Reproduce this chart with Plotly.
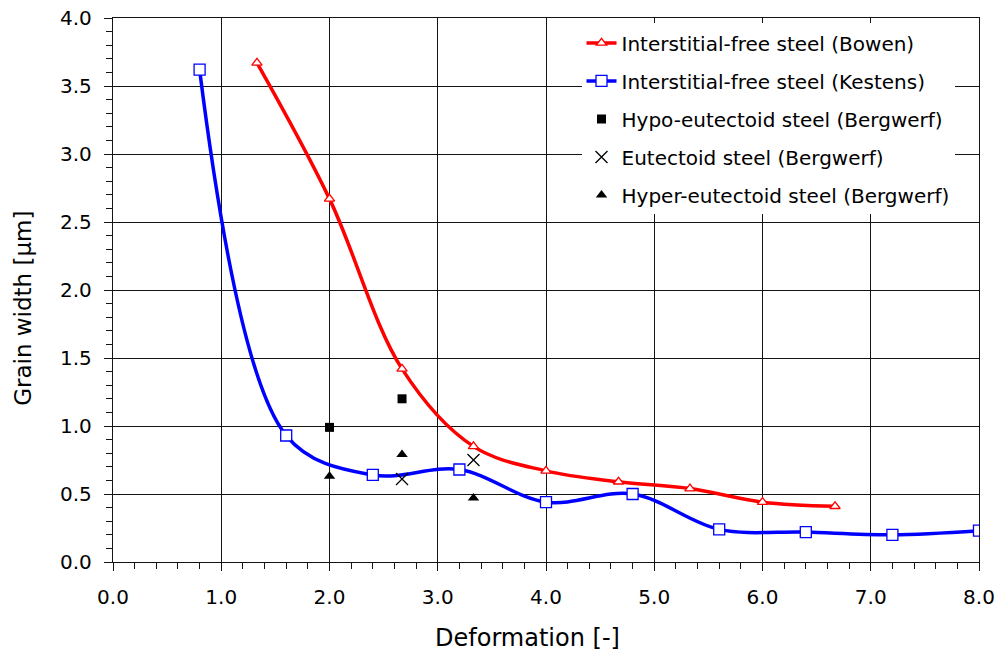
import plotly.graph_objects as go

# Grain width versus deformation for several steels
bowen_x = [1.33, 2.0, 2.67, 3.33, 4.0, 4.67, 5.33, 6.0, 6.67]
bowen_y = [3.67, 2.67, 1.42, 0.85, 0.67, 0.59, 0.54, 0.44, 0.41]

kestens_x = [0.8, 1.6, 2.4, 3.2, 4.0, 4.8, 5.6, 6.4, 7.2, 8.0]
kestens_y = [3.62, 0.93, 0.64, 0.68, 0.44, 0.50, 0.24, 0.22, 0.20, 0.23]

hypo_x = [2.0, 2.67]
hypo_y = [0.99, 1.20]

eutectoid_x = [2.67, 3.33]
eutectoid_y = [0.61, 0.75]

hyper_x = [2.0, 2.67, 3.33]
hyper_y = [0.63, 0.79, 0.47]

names = [
    "Interstitial-free steel (Bowen)",
    "Interstitial-free steel (Kestens)",
    "Hypo-eutectoid steel (Bergwerf)",
    "Eutectoid steel (Bergwerf)",
    "Hyper-eutectoid steel (Bergwerf)",
]

FONT = "DejaVu Sans"
RED = "#ff0000"
BLUE = "#0000ff"
INK = "#141414"

fig = go.Figure()

fig.add_trace(go.Scatter(
    x=bowen_x, y=bowen_y, name=names[0], legendgroup="g1",
    mode="lines+markers", line=dict(color=RED, width=3.5, shape="spline", smoothing=1),
    marker=dict(symbol="triangle-up", size=9, color="white", line=dict(color=RED, width=1.3)),
))
fig.add_trace(go.Scatter(
    x=kestens_x, y=kestens_y, name=names[1], legendgroup="g2",
    mode="lines+markers", line=dict(color=BLUE, width=3.5, shape="spline", smoothing=1),
    marker=dict(symbol="square", size=11, color="white", line=dict(color=BLUE, width=1.3)),
))
fig.add_trace(go.Scatter(
    x=hypo_x, y=hypo_y, name=names[2], legendgroup="g3", mode="markers",
    marker=dict(symbol="square", size=9, color="black"),
))
fig.add_trace(go.Scatter(
    x=eutectoid_x, y=eutectoid_y, name=names[3], legendgroup="g4", mode="markers",
    marker=dict(symbol="x-thin-open", size=12, color="black", line=dict(color="black", width=1.3)),
))
fig.add_trace(go.Scatter(
    x=hyper_x, y=hyper_y, name=names[4], legendgroup="g5", mode="markers",
    marker=dict(symbol="triangle-up", size=10, color="black"),
))

axis_common = dict(
    showgrid=True, gridcolor=INK, gridwidth=1.3,
    showline=True, linecolor=INK, linewidth=1.3, mirror=True,
    ticks="outside", ticklen=8, tickwidth=1.3, tickcolor=INK,
    tickformat=".1f", zeroline=False, automargin=False,
    tickfont=dict(family=FONT, size=20, color="black"),
)

fig.update_xaxes(
    range=[0, 8], dtick=1, tick0=0, ticklabelstandoff=9,
    minor=dict(dtick=0.2, ticks="outside", ticklen=6, tickcolor=INK, showgrid=False),
    **axis_common,
)
fig.update_yaxes(
    range=[0, 4], dtick=0.5, tick0=0, ticklabelstandoff=8,
    minor=dict(dtick=0.1, ticks="outside", ticklen=6, tickcolor=INK, showgrid=False),
    **axis_common,
)

fig.add_annotation(
    text="Deformation [-]", xref="paper", yref="paper", x=0.4787, y=-0.140,
    xanchor="center", yanchor="middle", showarrow=False,
    font=dict(family=FONT, size=24, color="black"),
)
fig.add_annotation(
    text="Grain width [μm]", xref="paper", yref="paper", x=-0.1035, y=0.466,
    xanchor="center", yanchor="middle", showarrow=False, textangle=-90,
    font=dict(family=FONT, size=23, color="black"),
)

fig.update_layout(
    width=998, height=655,
    margin=dict(l=113, r=19, t=18, b=93),
    paper_bgcolor="white", plot_bgcolor="white",
    showlegend=True,
    legend=dict(
        x=0.541, y=0.99, xanchor="left", yanchor="top",
        bgcolor="white", borderwidth=0,
        font=dict(family=FONT, size=20, color="black"),
        tracegroupgap=9,
    ),
)

fig.write_html("out.html")
